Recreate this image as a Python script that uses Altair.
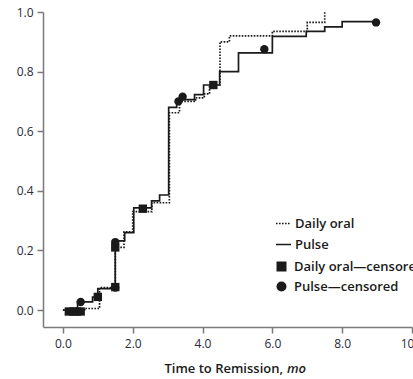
import altair as alt
import pandas as pd

# Kaplan-Meier style step curves (time in months, cumulative proportion)
pulse_t = [0, 0.42, 0.85, 1.0, 1.5, 1.77, 2.03, 2.54, 2.77, 3.03, 3.26, 3.77, 4.03, 4.49, 5.03, 6.0, 6.97, 7.5, 8.0, 8.97]
pulse_v = [0, 0.027, 0.043, 0.072, 0.232, 0.26, 0.343, 0.366, 0.386, 0.68, 0.706, 0.723, 0.755, 0.80, 0.863, 0.918, 0.935, 0.95, 0.968, 0.968]

oral_t = [0, 0.62, 1.05, 1.5, 1.75, 2.0, 2.55, 3.05, 3.34, 3.8, 4.05, 4.2, 4.5, 4.77, 6.0, 7.0, 7.5]
oral_v = [0, 0.005, 0.075, 0.21, 0.262, 0.33, 0.36, 0.662, 0.70, 0.712, 0.725, 0.755, 0.90, 0.92, 0.935, 0.965, 1.0]

oral_cens_t = [0.17, 0.3, 0.4, 0.51, 1.0, 1.5, 1.5, 2.29, 4.31]
oral_cens_v = [-0.005, -0.005, -0.005, -0.005, 0.044, 0.077, 0.21, 0.34, 0.755]

pulse_cens_t = [0.51, 1.5, 1.5, 3.31, 3.43, 5.77, 8.97]
pulse_cens_v = [0.027, 0.075, 0.228, 0.70, 0.716, 0.875, 0.965]

x_ticks = [0, 2, 4, 6, 8, 10]
y_ticks = [0, 0.2, 0.4, 0.6, 0.8, 1.0]

line_series = ["Daily oral", "Pulse"]
point_series = ["Daily oral\u2014censored", "Pulse\u2014censored"]

lines_df = pd.concat([
    pd.DataFrame({"series": line_series[0], "t": oral_t, "v": oral_v}),
    pd.DataFrame({"series": line_series[1], "t": pulse_t, "v": pulse_v}),
])
pts_df = pd.concat([
    pd.DataFrame({"series": point_series[0], "t": oral_cens_t, "v": oral_cens_v}),
    pd.DataFrame({"series": point_series[1], "t": pulse_cens_t, "v": pulse_cens_v}),
])

FONT = "Open Sans"
INK = "#1a1a1a"

x_enc = alt.X("t:Q", scale=alt.Scale(domain=[-0.57, 10], nice=False, zero=False),
              axis=alt.Axis(values=x_ticks, format=".1f", grid=False, title=None,
                            tickSize=6, labelPadding=5, labelFlush=False, labelOverlap=False))
y_enc = alt.Y("v:Q", scale=alt.Scale(domain=[-0.057, 1.0], nice=False, zero=False),
              axis=alt.Axis(values=y_ticks, format=".1f", grid=False, title=None,
                            tickSize=6, labelPadding=4))

lines = alt.Chart(lines_df).mark_line(interpolate="step-after", strokeWidth=1.7, color=INK).encode(
    x=x_enc, y=y_enc,
    strokeDash=alt.StrokeDash("series:N",
        scale=alt.Scale(domain=line_series, range=[[1.6, 1.4], [1, 0]]),
        legend=alt.Legend(orient="none", legendX=232, legendY=203, title=None,
                          symbolType="stroke", symbolSize=225, symbolStrokeColor=INK,
                          symbolStrokeWidth=1.7, labelFont=FONT, labelFontSize=13,
                          labelColor=INK, labelFontWeight=600, rowPadding=5,
                          labelOffset=3, padding=0)),
)

points = alt.Chart(pts_df).mark_point(filled=True, opacity=1, color=INK, size=70).encode(
    x="t:Q", y="v:Q",
    shape=alt.Shape("series:N",
        scale=alt.Scale(domain=point_series, range=["square", "circle"]),
        legend=alt.Legend(orient="none", legendX=232, legendY=248, title=None,
                          symbolSize=100, symbolFillColor=INK, symbolStrokeColor=INK,
                          symbolStrokeWidth=0, labelFont=FONT, labelFontSize=13,
                          labelColor=INK, labelFontWeight=600, rowPadding=6,
                          labelOffset=6, padding=0, labelLimit=300)),
)

title_df = pd.DataFrame({"a": [1]})
title1 = alt.Chart(title_df).mark_text(text="Time to Remission,", align="right", baseline="alphabetic",
                                       font=FONT, fontSize=13, fontWeight=600, color=INK).encode(
    x=alt.value(240), y=alt.value(361))
title2 = alt.Chart(title_df).mark_text(text="mo", align="left", baseline="alphabetic",
                                       font=FONT, fontSize=13, fontWeight=600, fontStyle="italic",
                                       color=INK).encode(
    x=alt.value(244), y=alt.value(361))

chart = alt.layer(lines, points, title1, title2).resolve_legend(shape="independent").properties(
    width=369, height=315,
    autosize=alt.AutoSizeParams(type="none"),
    padding={"left": 43, "top": 12, "right": 1, "bottom": 52},
    background="white",
).configure_view(stroke=None).configure_axis(
    domainColor="#7a7a7a", domainWidth=1.5, tickColor="#7a7a7a", tickWidth=1.5,
    labelFont=FONT, labelFontSize=12, labelColor="#2a2a3a",
)

chart.save("out.html", embed_options={"renderer": "svg", "actions": False})
